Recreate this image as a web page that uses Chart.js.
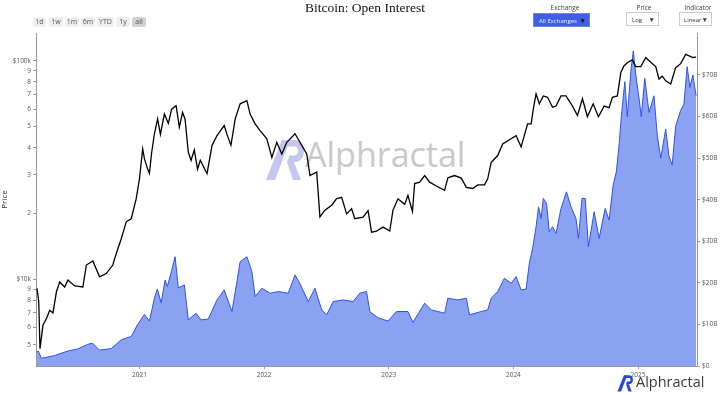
<!DOCTYPE html>
<html><head><meta charset="utf-8">
<script src="https://cdn.jsdelivr.net/npm/chart.js@4.4.1/dist/chart.umd.min.js"></script>
<style>
html,body{margin:0;padding:0;background:#fff;}
#wrap{position:relative;width:723px;height:393px;overflow:hidden;font-family:"Open Sans",Arial,sans-serif;}
#c{position:absolute;left:0;top:0;z-index:2;}
.abs{position:absolute;}
#title{left:0;width:730px;top:0px;text-align:center;font-family:"Liberation Serif","Times New Roman",serif;font-size:13.5px;color:#111;z-index:3;}
.btn{top:17px;height:10px;line-height:10px;font-size:7px;color:#555;background:#efefef;border-radius:2px;text-align:center;z-index:3;}
.lbl{font-size:6.5px;color:#444;text-align:center;z-index:3;}
.sel{height:14px;line-height:14px;font-size:6px;z-index:3;box-sizing:border-box;white-space:nowrap;}
.arr{position:absolute;right:3px;top:0;font-size:6.5px;}
#wm{left:265px;top:137px;z-index:1;}
#wmtext{left:305px;top:131px;font-size:34px;color:#c9c9c9;z-index:1;}
#brand{left:636px;top:372px;font-size:14.5px;color:#3a3a3a;z-index:3;}
#brandicon{left:617px;top:374px;z-index:3;}
</style></head>
<body><div id="wrap">
<div id="title" class="abs">Bitcoin: Open Interest</div>
<div class="abs btn" style="left:33px;width:13px">1d</div>
<div class="abs btn" style="left:49px;width:14px">1w</div>
<div class="abs btn" style="left:65px;width:14px">1m</div>
<div class="abs btn" style="left:81px;width:14px">6m</div>
<div class="abs btn" style="left:97px;width:17px">YTD</div>
<div class="abs btn" style="left:116px;width:14px">1y</div>
<div class="abs btn" style="left:132px;width:14px;background:#d2d2d2">all</div>
<div class="abs lbl" style="left:535px;width:60px;top:3px">Exchange</div>
<div class="abs sel" style="left:533px;top:13px;width:57px;background:#3f5ee4;color:#eef;padding-left:5px;border:1px solid #6d84ea">All Exchanges<span class="arr" style="color:#111">▼</span></div>
<div class="abs lbl" style="left:624px;width:40px;top:3px">Price</div>
<div class="abs sel" style="left:626px;top:12px;width:33px;background:#fff;color:#333;padding-left:5px;border:1px solid #ccc">Log<span class="arr">▼</span></div>
<div class="abs lbl" style="left:676px;width:44px;top:3px">Indicator</div>
<div class="abs sel" style="left:679px;top:12px;width:33px;background:#fff;color:#333;padding-left:4px;border:1px solid #ccc">Linear<span class="arr">▼</span></div>

<svg id="wm" class="abs" width="44" height="44" viewBox="0 0 44 44">
  <g fill="#c3c7ee">
    <polygon points="1,43 17,3 25,3 10,43"/>
    <path d="M21 3 H30 C42 3 42 25 30 25 H22 L24.5 18.5 H30 C34 18.5 34 9.5 30 9.5 H21 Z"/>
    <polygon points="22,25 29,25 36,43 28,43"/>
  </g>
</svg>
<div id="wmtext" class="abs">Alphractal</div>
<svg id="brandicon" class="abs" width="18" height="18" viewBox="0 0 44 44">
  <g fill="#2a45d6">
    <polygon points="1,43 17,3 25,3 10,43"/>
    <path d="M21 3 H30 C42 3 42 25 30 25 H22 L24.5 18.5 H30 C34 18.5 34 9.5 30 9.5 H21 Z"/>
    <polygon points="22,25 29,25 36,43 28,43"/>
  </g>
</svg>
<div id="brand" class="abs">Alphractal</div>
<canvas id="c" width="723" height="393"></canvas>
</div>
<script>
// ---- data (time as decimal years) ----
const priceTime = [2020.178,2020.192,2020.202,2020.226,2020.254,2020.280,2020.306,2020.334,2020.360,2020.400,2020.426,2020.480,2020.546,2020.574,2020.626,2020.680,2020.734,2020.786,2020.814,2020.854,2020.894,2020.934,2020.974,2021.000,2021.026,2021.040,2021.066,2021.080,2021.098,2021.120,2021.146,2021.168,2021.200,2021.232,2021.258,2021.294,2021.320,2021.346,2021.366,2021.392,2021.414,2021.440,2021.466,2021.488,2021.542,2021.582,2021.622,2021.680,2021.702,2021.734,2021.768,2021.808,2021.862,2021.888,2021.928,2021.968,2022.022,2022.062,2022.102,2022.142,2022.182,2022.248,2022.302,2022.342,2022.368,2022.422,2022.448,2022.488,2022.542,2022.582,2022.622,2022.662,2022.702,2022.728,2022.794,2022.834,2022.862,2022.902,2022.954,2023.008,2023.034,2023.074,2023.128,2023.154,2023.190,2023.208,2023.248,2023.288,2023.328,2023.382,2023.448,2023.474,2023.528,2023.582,2023.622,2023.674,2023.714,2023.768,2023.794,2023.822,2023.874,2023.914,2023.968,2024.022,2024.062,2024.114,2024.142,2024.162,2024.182,2024.208,2024.240,2024.274,2024.314,2024.342,2024.382,2024.422,2024.474,2024.514,2024.554,2024.594,2024.640,2024.682,2024.728,2024.768,2024.794,2024.834,2024.862,2024.888,2024.920,2024.954,2024.982,2025.022,2025.062,2025.102,2025.142,2025.168,2025.194,2025.222,2025.262,2025.274,2025.302,2025.342,2025.382,2025.414,2025.440,2025.466];
const priceUSD = [9070,7900,4800,6160,6600,7200,7000,8750,9700,9200,9900,9300,9200,11600,12100,10250,10600,11600,13100,15300,18300,18900,23350,28800,39500,35500,31900,30500,38000,46300,54200,46000,57000,51600,60000,62300,49600,58000,54000,38100,35000,39000,31900,35000,30400,40900,45400,50500,46000,41000,54200,63500,65600,57000,51400,47900,43900,36100,42300,37400,42300,46300,41000,37400,29800,30900,19250,20700,21800,23350,23700,19900,21000,18900,19200,20600,16400,16600,17300,16600,20700,23350,22000,24200,20400,27400,27800,29800,27800,26700,25500,29100,29800,29000,26300,26000,27000,27000,28800,34300,36800,41600,43500,45400,40300,51400,51400,61200,70500,63500,69000,68000,61200,62000,69000,69000,62000,56100,67000,55400,63500,55400,62000,61000,68000,69000,88400,94900,98500,101000,94000,94000,103500,98500,94000,82500,85000,81000,78300,82500,93000,97000,107000,105000,103500,104000];

const oiTime = [2020.178,2020.188,2020.214,2020.320,2020.424,2020.504,2020.584,2020.624,2020.680,2020.774,2020.854,2020.934,2020.984,2021.040,2021.080,2021.120,2021.144,2021.174,2021.206,2021.224,2021.256,2021.286,2021.312,2021.360,2021.392,2021.454,2021.494,2021.552,2021.622,2021.680,2021.742,2021.782,2021.808,2021.862,2021.902,2021.928,2021.982,2022.048,2022.114,2022.194,2022.248,2022.288,2022.354,2022.408,2022.462,2022.502,2022.554,2022.634,2022.714,2022.768,2022.822,2022.848,2022.914,2022.994,2023.062,2023.154,2023.194,2023.288,2023.342,2023.448,2023.474,2023.554,2023.622,2023.648,2023.742,2023.794,2023.822,2023.874,2023.928,2023.982,2024.022,2024.062,2024.102,2024.128,2024.154,2024.182,2024.202,2024.222,2024.240,2024.266,2024.288,2024.314,2024.342,2024.382,2024.426,2024.462,2024.502,2024.522,2024.550,2024.576,2024.602,2024.648,2024.688,2024.736,2024.768,2024.800,2024.826,2024.848,2024.866,2024.894,2024.914,2024.942,2024.962,2024.982,2025.008,2025.026,2025.054,2025.088,2025.128,2025.154,2025.182,2025.222,2025.248,2025.274,2025.302,2025.342,2025.368,2025.394,2025.416,2025.440,2025.466];
const oiBillions = [3.4,3.6,1.85,2.5,3.6,4.1,5.2,5.5,3.8,4.2,6.3,7.1,9.9,12.4,10.8,16.3,18.5,15.2,20.7,19.1,22.7,26.3,18.8,19.5,11.1,12.7,11.1,11.3,15.9,18.3,13.1,20.3,25.1,26.3,22.7,16.7,18.7,17.5,17.9,17.5,21.9,19.8,15.5,18.7,13.5,12.3,15.5,15.9,15.5,17.5,17.9,13.1,11.6,10.8,13.1,13.1,10.5,15.1,13.5,12.7,16.3,15.9,16.3,12.3,13.1,13.5,16.3,17.9,21.1,19.9,21.5,18.3,18.5,24.7,28.3,33.5,38.3,35.5,40.3,39.1,32.3,33.5,31.9,37.9,41.9,38.3,35.5,30.7,40.3,40.3,28.7,37.1,30.7,37.9,35.1,43.5,46.7,53.2,60.0,68.4,60.0,70.8,75.8,70.0,64.4,60.0,69.2,61.0,65.0,55.6,50.0,57.0,50.5,48.4,57.7,61.5,63.0,72.0,67.0,70.0,65.0];

const yearTicks = [2021,2022,2023,2024,2025];
const priceTicks = [5000,6000,7000,8000,9000,10000,20000,30000,40000,50000,60000,70000,80000,90000,100000];
const oiTicks = [0,10,20,30,40,50,60,70];

// ---- chart ----
Chart.defaults.font.family = "'Open Sans', sans-serif";
const tickFont = {size: 6.5};
const ctx = document.getElementById('c');
new Chart(ctx, {
  type: 'line',
  data: {
    datasets: [
      {
        label: 'Price',
        data: priceTime.map((t, i) => ({x: t, y: priceUSD[i]})),
        yAxisID: 'yPrice',
        borderColor: '#000',
        borderWidth: 1.3,
        pointRadius: 0,
        tension: 0,
        fill: false,
        order: 0
      },
      {
        label: 'Open Interest',
        data: oiTime.map((t, i) => ({x: t, y: oiBillions[i]})),
        yAxisID: 'yOI',
        borderColor: '#2d52e8',
        backgroundColor: '#8ba1f1',
        borderWidth: 1,
        pointRadius: 0,
        tension: 0,
        fill: 'origin',
        order: 1
      }
    ]
  },
  options: {
    responsive: false,
    animation: false,
    devicePixelRatio: 1,
    layout: {padding: {top: 33, left: 0, right: 0, bottom: 0}},
    plugins: {legend: {display: false}, tooltip: {enabled: false}},
    scales: {
      x: {
        type: 'linear',
        min: 2020.17,
        max: 2025.473,
        afterBuildTicks: s => { s.ticks = yearTicks.map(v => ({value: v})); },
        afterFit: s => { s.height = 27; },
        ticks: {autoSkip: false, maxRotation: 0, font: tickFont, color: '#555', padding: 2, callback: v => String(v)},
        grid: {drawOnChartArea: false, drawTicks: true, tickLength: 3, color: '#999'},
        border: {display: true, color: '#999'}
      },
      yPrice: {
        type: 'logarithmic',
        position: 'left',
        min: 4000,
        max: 134000,
        afterBuildTicks: s => { s.ticks = priceTicks.map(v => ({value: v})); },
        afterFit: s => { s.width = 36; },
        ticks: {
          autoSkip: false, font: tickFont, color: '#555', padding: 2,
          callback: v => {
            if (v === 10000) return '$10k';
            if (v === 100000) return '$100k';
            const p = Math.pow(10, Math.floor(Math.log10(v) + 1e-9));
            return String(Math.round(v / p));
          }
        },
        title: {display: true, text: 'Price', font: {size: 8}, color: '#333', padding: {top: 0, bottom: 0}},
        grid: {drawOnChartArea: false, drawTicks: true, tickLength: 3, color: '#999'},
        border: {display: true, color: '#999'}
      },
      yOI: {
        type: 'linear',
        position: 'right',
        min: 0,
        max: 80.1,
        afterBuildTicks: s => { s.ticks = oiTicks.map(v => ({value: v})); },
        afterFit: s => { s.width = 26; },
        ticks: {autoSkip: false, font: tickFont, color: '#555', padding: 2, callback: v => v === 0 ? '$0' : '$' + v + 'B'},
        grid: {drawOnChartArea: false, drawTicks: true, tickLength: 3, color: '#999'},
        border: {display: true, color: '#999'}
      }
    }
  }
});
</script>
</body></html>
